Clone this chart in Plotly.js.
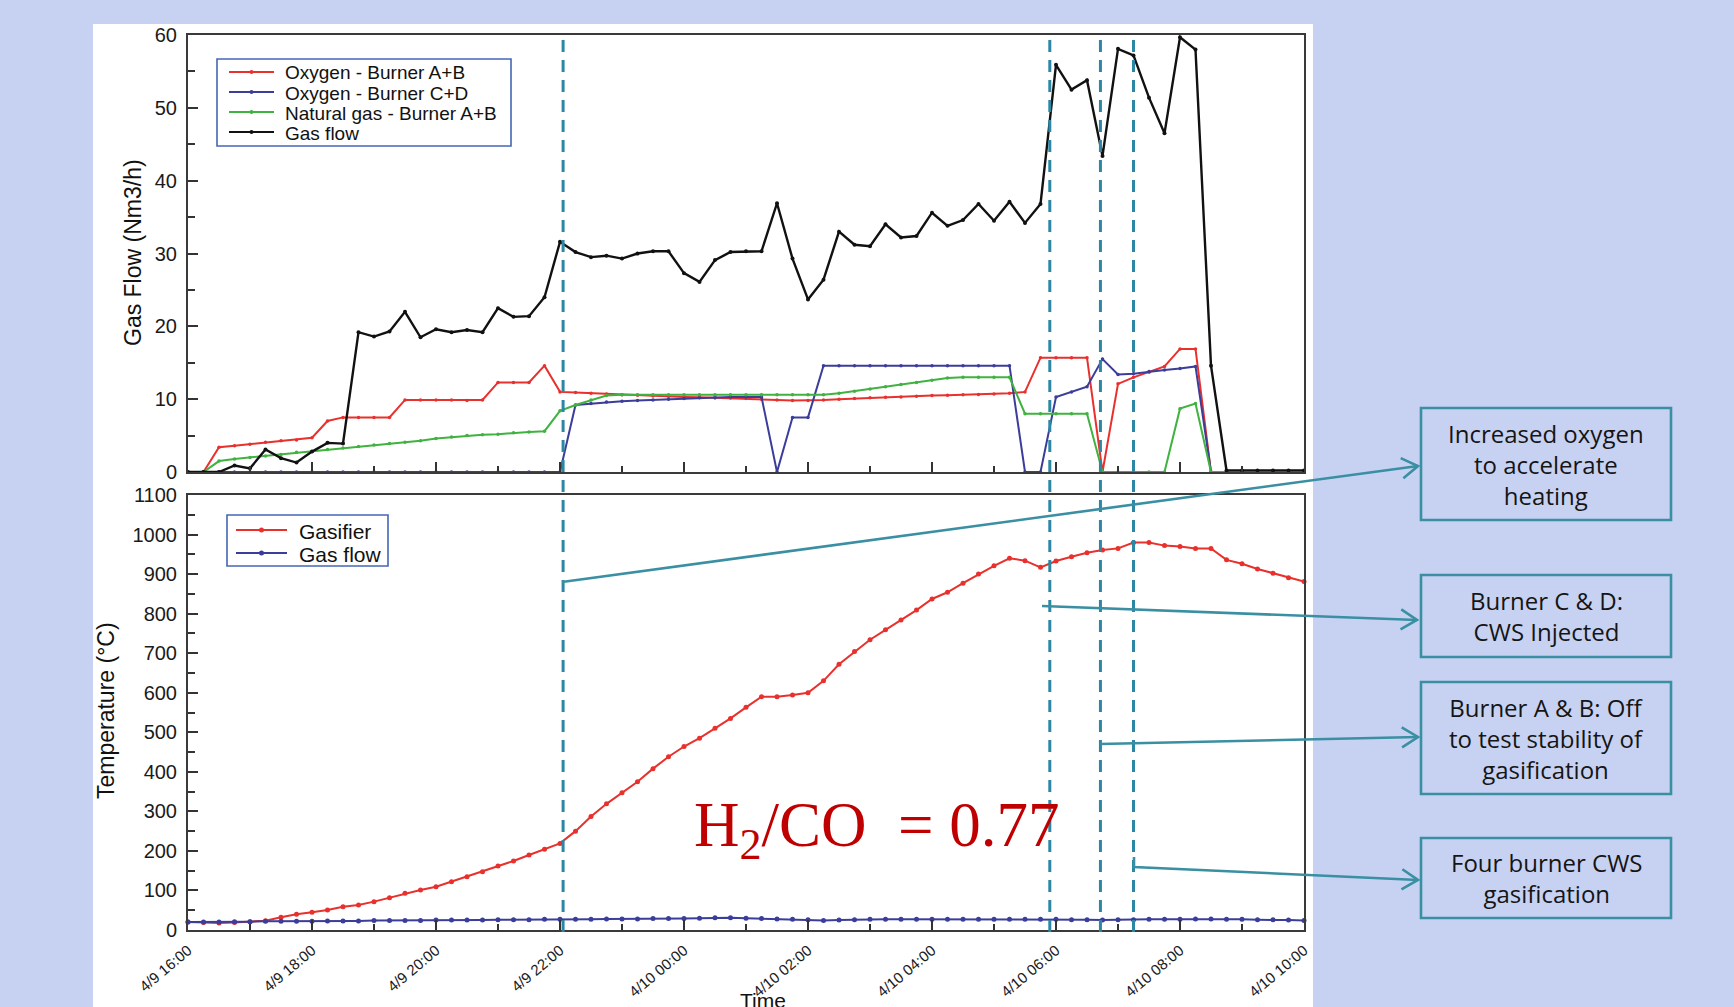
<!DOCTYPE html>
<html>
<head>
<meta charset="utf-8">
<script src="https://cdn.plot.ly/plotly-3.0.1.min.js"></script>
<style>
html,body{margin:0;padding:0;background:#c7d2f2;}
#chart{width:1734px;height:1007px;}
</style>
</head>
<body>
<div id="chart"></div>
<script>
// ---------- DATA (15-minute samples, 4/9 16:00 -> 4/10 10:00) ----------
const times = [
"2015-04-09 16:00","2015-04-09 16:15","2015-04-09 16:30","2015-04-09 16:45",
"2015-04-09 17:00","2015-04-09 17:15","2015-04-09 17:30","2015-04-09 17:45",
"2015-04-09 18:00","2015-04-09 18:15","2015-04-09 18:30","2015-04-09 18:45",
"2015-04-09 19:00","2015-04-09 19:15","2015-04-09 19:30","2015-04-09 19:45",
"2015-04-09 20:00","2015-04-09 20:15","2015-04-09 20:30","2015-04-09 20:45",
"2015-04-09 21:00","2015-04-09 21:15","2015-04-09 21:30","2015-04-09 21:45",
"2015-04-09 22:00","2015-04-09 22:15","2015-04-09 22:30","2015-04-09 22:45",
"2015-04-09 23:00","2015-04-09 23:15","2015-04-09 23:30","2015-04-09 23:45",
"2015-04-10 00:00","2015-04-10 00:15","2015-04-10 00:30","2015-04-10 00:45",
"2015-04-10 01:00","2015-04-10 01:15","2015-04-10 01:30","2015-04-10 01:45",
"2015-04-10 02:00","2015-04-10 02:15","2015-04-10 02:30","2015-04-10 02:45",
"2015-04-10 03:00","2015-04-10 03:15","2015-04-10 03:30","2015-04-10 03:45",
"2015-04-10 04:00","2015-04-10 04:15","2015-04-10 04:30","2015-04-10 04:45",
"2015-04-10 05:00","2015-04-10 05:15","2015-04-10 05:30","2015-04-10 05:45",
"2015-04-10 06:00","2015-04-10 06:15","2015-04-10 06:30","2015-04-10 06:45",
"2015-04-10 07:00","2015-04-10 07:15","2015-04-10 07:30","2015-04-10 07:45",
"2015-04-10 08:00","2015-04-10 08:15","2015-04-10 08:30","2015-04-10 08:45",
"2015-04-10 09:00","2015-04-10 09:15","2015-04-10 09:30","2015-04-10 09:45",
"2015-04-10 10:00"
];

// Top panel: gas flows (Nm3/h)
const oxygenAB = [null,0,3.4,3.6,3.8,4.1,4.3,4.4,4.7,7.0,
7.5,7.5,7.5,7.5,9.9,9.9,9.9,9.9,9.8,9.9,
12.3,12.3,12.3,14.6,11.0,10.9,10.8,10.7,10.6,10.55,
10.45,10.4,10.3,10.25,10.2,10.15,10.1,10.0,9.9,9.8,
9.8,9.9,10.0,10.1,10.2,10.25,10.3,10.4,10.5,10.55,
10.6,10.65,10.7,10.8,11.0,15.7,15.7,15.7,15.7,0,
12.1,13.0,13.7,14.5,16.9,16.9,0,0];

const oxygenCD = [null,0,0,0,0,0,0,0,0,0,
0,0,0,0,0,0,0,0,0,0,
0,0,0,0,0,9.2,9.4,9.6,9.7,9.8,
9.9,10.0,10.1,10.2,10.2,10.3,10.3,10.3,0,7.5,
7.5,14.6,14.6,14.6,14.6,14.6,14.6,14.6,14.6,14.6,
14.6,14.6,14.6,14.6,0,0,10.3,11.0,11.7,15.5,
13.4,13.5,13.8,14.0,14.2,14.5,0,0];

const naturalGasAB = [null,0,1.5,1.8,2.0,2.2,2.4,2.7,2.8,3.1,
3.3,3.5,3.7,3.9,4.1,4.3,4.6,4.8,5.0,5.1,
5.2,5.4,5.5,5.6,8.4,9.2,9.9,10.5,10.6,10.6,
10.6,10.6,10.6,10.6,10.6,10.6,10.6,10.6,10.6,10.6,
10.6,10.6,10.8,11.1,11.4,11.7,12.0,12.3,12.6,12.9,
13.0,13.0,13.0,13.0,8.0,8.0,8.0,8.0,8.0,0,
0,0,0,0,8.7,9.4,0,0];

const gasFlow = [0,0,0,0.9,0.5,3.1,1.9,1.3,2.8,4.0,
3.9,19.2,18.6,19.3,22.0,18.5,19.6,19.2,19.5,19.2,
22.5,21.3,21.4,24.0,31.6,30.2,29.5,29.7,29.3,30.0,
30.3,30.3,27.3,26.1,29.1,30.2,30.3,30.3,36.9,29.3,
23.7,26.4,33.0,31.2,31.0,34.0,32.2,32.4,35.6,33.8,
34.6,36.8,34.5,37.1,34.2,36.8,55.9,52.5,53.8,43.4,
58.1,57.2,51.4,46.5,59.7,58.0,14.6,0.2,0.2,0.2,
0.2,0.2,0.2];

// Bottom panel: temperatures (°C)
const tempGasifier = [20,19,18,19,21,23.6,32,39.6,44.7,50.6,
59,63.2,71.7,81.8,92.7,101,109.6,122.3,134.9,147.5,
161.9,174.5,189.7,204,219,250,287,319,347,375,
408,438,464,485,510,535,563,590,590,594,
600,630,672,704,734,759,784,809,837,854,
877,900,921,940,934,917,933,944,954,961,
965,980,980,972,970,965,965,936,926,913,
902,891,881];

const tempGasFlow = [20,20,20,21,21,22,22,22,22,23,
23,23,24,24,24,24,25,25,25,25,
26,26,26,27,27,27,27,28,28,28,
29,29,29,30,31,31,30,29,28,27,
26,24,25,26,27,27,27,27,27,27,
27,27,27,27,27,27,27,26,26,25,
26,26,27,27,27,28,28,27,27,26,
26,25,24];

const topNames = ["Oxygen - Burner A+B","Oxygen - Burner C+D","Natural gas - Burner A+B","Gas flow"];
const bottomNames = ["Gasifier","Gas flow"];
const eventTimes = ["2015-04-09 22:03","2015-04-10 05:54","2015-04-10 06:43","2015-04-10 07:15"];
const calloutTexts = [
  "Increased oxygen<br>to accelerate<br>heating",
  "Burner C &amp; D:<br>CWS Injected",
  "Burner A &amp; B: Off<br>to test stability of<br>gasification",
  "Four burner CWS<br>gasification"
];
const ratioText = "H<sub>2</sub>/CO&nbsp;&nbsp;= 0.77";

// ---------- GEOMETRY HELPERS ----------
const W = 1734, H = 1007;
const L = 188, R = 1304, T = 35, B = 930;
const px = X => (X - L) / (R - L);
const py = Y => (B - Y) / (B - T);

const RED = "#e8302c", NAVY = "#3b3d9a", GREEN = "#3fb23f", BLACK = "#111111";
const TEAL_D = "#2d87a4", TEAL = "#3a8fa3";
const FONT = "Liberation Sans, Arial, Helvetica, sans-serif";

// ---------- TRACES ----------
const topColors = [RED, NAVY, GREEN, BLACK];
const bottomColors = [RED, NAVY];
const topSeries = [oxygenAB, oxygenCD, naturalGasAB, gasFlow];
const traces = [];
topSeries.forEach((ys, k) => {
  traces.push({
    x: times, y: ys, name: topNames[k], type: "scatter", mode: "lines+markers",
    xaxis: "x2", yaxis: "y2", cliponaxis: false, showlegend: false,
    line: {color: topColors[k], width: k === 3 ? 2.4 : 2},
    marker: {color: topColors[k], size: k === 3 ? 4 : 3.5, symbol: "circle"}
  });
});
[tempGasifier, tempGasFlow].forEach((ys, k) => {
  traces.push({
    x: times, y: ys, name: bottomNames[k], type: "scatter", mode: "lines+markers",
    xaxis: "x", yaxis: "y", cliponaxis: false, showlegend: false,
    line: {color: bottomColors[k], width: 2},
    marker: {color: bottomColors[k], size: 5, symbol: "circle"}
  });
});

// ---------- SHAPES ----------
const shapes = [];
const annotations = [];
// white figure card
shapes.push({type: "rect", xref: "paper", yref: "paper", layer: "below",
  x0: px(93), x1: px(1313), y0: py(1007), y1: py(24),
  fillcolor: "#ffffff", line: {width: 0}});
// dashed event lines
eventTimes.forEach(t => shapes.push({type: "line", xref: "x", yref: "paper",
  x0: t, x1: t, y0: py(932), y1: py(35), layer: "above",
  line: {color: TEAL_D, width: 3, dash: "12px,8px"}}));

// legends (framed boxes with line+marker samples)
function legendBox(box, names, colors, rowsY, lineX0, lineX1, textX, fsize, msize) {
  shapes.push({type: "rect", xref: "paper", yref: "paper", layer: "above",
    x0: px(box[0]), x1: px(box[2]), y0: py(box[3]), y1: py(box[1]),
    fillcolor: "#ffffff", line: {color: "#4566b4", width: 1.6}});
  names.forEach((nm, i) => {
    const y = rowsY[i];
    shapes.push({type: "line", xref: "paper", yref: "paper", layer: "above",
      x0: px(lineX0), x1: px(lineX1), y0: py(y), y1: py(y),
      line: {color: colors[i], width: 2.2}});
    const cx = (lineX0 + lineX1) / 2, r = msize / 2;
    shapes.push({type: "circle", xref: "paper", yref: "paper", layer: "above",
      x0: px(cx - r), x1: px(cx + r), y0: py(y + r), y1: py(y - r),
      fillcolor: colors[i], line: {color: colors[i], width: 0}});
    annotations.push({text: nm, xref: "paper", yref: "paper", x: px(textX), y: py(y + 1),
      xanchor: "left", yanchor: "middle", showarrow: false,
      font: {family: FONT, size: fsize, color: "#111"}});
  });
}
legendBox([217,59,511,146], topNames, topColors, [72, 92, 112, 132], 229, 274, 283, 19, 4);
legendBox([227,515,388,566], bottomNames, bottomColors, [530, 553], 236, 287, 297, 21, 5);

// callout boxes
const boxes = [[1421,408,1671,520],[1421,575,1671,657],[1421,682,1671,794],[1421,838,1671,918]];
boxes.forEach(b => shapes.push({type: "rect", xref: "paper", yref: "paper", layer: "above",
  x0: px(b[0]), x1: px(b[2]), y0: py(b[3]), y1: py(b[1]),
  fillcolor: "#c7d2f2", line: {color: TEAL, width: 2.6}}));
// callout connector lines with open arrowheads
const callouts = [
  [[562,582],[1418,466]],
  [[1042,606],[1417,620]],
  [[1100,744],[1418,737]],
  [[1134,857],[1134,867],[1418,880]]
];
const P = (X, Y) => px(X).toFixed(5) + "," + py(Y).toFixed(5);
callouts.forEach(pts => {
  let d = "M" + P(pts[0][0], pts[0][1]);
  for (let i = 1; i < pts.length; i++) d += " L" + P(pts[i][0], pts[i][1]);
  shapes.push({type: "path", xref: "paper", yref: "paper", layer: "above", path: d,
    line: {color: TEAL, width: 2.6}});
  const tip = pts[pts.length - 1], prev = pts[pts.length - 2];
  let dx = tip[0] - prev[0], dy = tip[1] - prev[1];
  const n = Math.hypot(dx, dy); dx /= n; dy /= n;
  const len = 19, a = 32 * Math.PI / 180;
  const arm = s => [tip[0] - len * (dx * Math.cos(s * a) - dy * Math.sin(s * a)),
                    tip[1] - len * (dx * Math.sin(s * a) + dy * Math.cos(s * a))];
  const a1 = arm(1), a2 = arm(-1);
  shapes.push({type: "path", xref: "paper", yref: "paper", layer: "above",
    path: "M" + P(a1[0], a1[1]) + " L" + P(tip[0], tip[1]) + " L" + P(a2[0], a2[1]),
    line: {color: TEAL, width: 2.6}});
});

// ---------- ANNOTATIONS ----------
annotations.push(
  {text: "Gas Flow (Nm3/h)", xref: "paper", yref: "paper", x: px(133), y: py(253),
   textangle: -90, showarrow: false, xanchor: "center", yanchor: "middle",
   font: {family: FONT, size: 23, color: "#111"}},
  {text: "Temperature (°C)", xref: "paper", yref: "paper", x: px(106), y: py(711),
   textangle: -90, showarrow: false, xanchor: "center", yanchor: "middle",
   font: {family: FONT, size: 23, color: "#111"}},
  {text: "Time", xref: "paper", yref: "paper", x: px(763), y: py(987),
   showarrow: false, xanchor: "center", yanchor: "top",
   font: {family: FONT, size: 21, color: "#111"}},
  {text: ratioText, xref: "paper", yref: "paper", x: px(692), y: py(829),
   showarrow: false, xanchor: "left", yanchor: "middle",
   font: {family: "Liberation Serif, Times New Roman, serif", size: 63, color: "#c00000"}}
);
const boxCentersY = [464, 616, 738, 878];
calloutTexts.forEach((t, i) => annotations.push({text: t, xref: "paper", yref: "paper",
  x: px(1546), y: py(boxCentersY[i]), showarrow: false, xanchor: "center", yanchor: "middle",
  align: "center", font: {family: "Open Sans, Noto Sans, sans-serif", size: 24, color: "#151515"}}));

// ---------- AXES ----------
const xBase = {
  type: "date", range: ["2015-04-09 16:00", "2015-04-10 10:00"],
  tick0: "2015-04-09 16:00", dtick: 7200000, tickformat: "%-m/%-d %H:%M",
  ticks: "inside", ticklen: 10, tickwidth: 2, tickcolor: "#333",
  showline: true, linecolor: "#3a3a3a", linewidth: 2, mirror: true,
  showgrid: false, zeroline: false,
  minor: {ticks: "inside", dtick: 3600000, tick0: "2015-04-09 16:00", ticklen: 6, tickwidth: 2, tickcolor: "#333", showgrid: false}
};
const yBase = {
  ticks: "inside", ticklen: 10, tickwidth: 2, tickcolor: "#333",
  showline: true, linecolor: "#3a3a3a", linewidth: 2, mirror: true,
  showgrid: false, zeroline: false, ticklabelstandoff: 5,
  tickfont: {family: FONT, size: 20, color: "#1a1a1a"}
};

const layout = {
  width: W, height: H,
  paper_bgcolor: "#c7d2f2", plot_bgcolor: "#ffffff",
  margin: {l: L, r: W - R, t: T, b: H - B, pad: 0},
  showlegend: false, hovermode: false,
  xaxis: Object.assign({}, xBase, {domain: [0, 1], anchor: "y", tickangle: -40,
    ticklabelstandoff: 4, tickfont: {family: FONT, size: 15, color: "#1a1a1a"}}),
  xaxis2: Object.assign({}, xBase, {domain: [0, 1], anchor: "y2", matches: "x", showticklabels: false}),
  yaxis: Object.assign({}, yBase, {domain: [0, py(495)], anchor: "x", range: [0, 1100], dtick: 100,
    minor: {ticks: "inside", dtick: 50, ticklen: 7, tickwidth: 2, tickcolor: "#333", showgrid: false}}),
  yaxis2: Object.assign({}, yBase, {domain: [py(472), 1], anchor: "x2", range: [0, 60], dtick: 10,
    minor: {ticks: "inside", dtick: 5, ticklen: 7, tickwidth: 2, tickcolor: "#333", showgrid: false}}),
  shapes: shapes,
  annotations: annotations
};

Plotly.newPlot("chart", traces, layout, {displayModeBar: false, staticPlot: true});
</script>
</body>
</html>
